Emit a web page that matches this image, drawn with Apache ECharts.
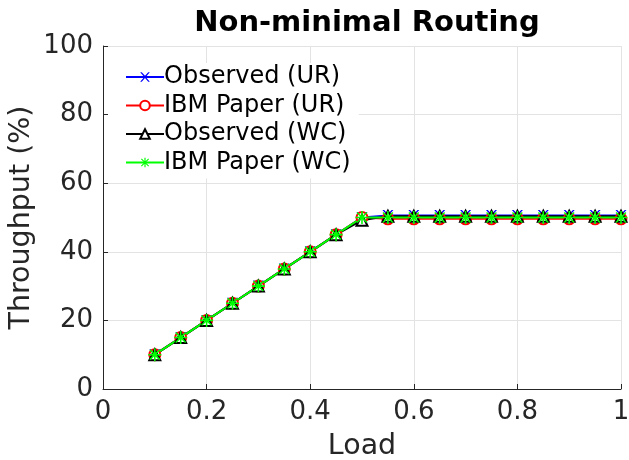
<!DOCTYPE html>
<html>
<head>
<meta charset="utf-8">
<script src="https://cdn.jsdelivr.net/npm/echarts@6/dist/echarts.min.js"></script>
<style>
html,body{margin:0;padding:0;background:#fff;}
#c{width:629px;height:460px;}
</style>
</head>
<body>
<div id="c"></div>
<script>
var loads = [0.1,0.15,0.2,0.25,0.3,0.35,0.4,0.45,0.5,0.55,0.6,0.65,0.7,0.75,0.8,0.85,0.9,0.95,1.0];
var observedUR = [10,15,20,25,30,35,40,45,50,50.6,50.6,50.6,50.6,50.6,50.6,50.6,50.6,50.6,50.6];
var ibmUR      = [10,15,20,25,30,35,40,45,50,49.6,49.6,49.6,49.6,49.6,49.6,49.6,49.6,49.6,49.6];
var observedWC = [10,15,20,25,30,35,40,45,49.2,50.4,50.4,50.4,50.4,50.4,50.4,50.4,50.4,50.4,50.4];
var ibmWC      = [10,15,20,25,30,35,40,45,50,50,50,50,50,50,50,50,50,50,50];
var seriesNames = ['Observed (UR)','IBM Paper (UR)','Observed (WC)','IBM Paper (WC)'];
var xTicks = [0,0.2,0.4,0.6,0.8,1];
var yTicks = [0,20,40,60,80,100];

var FONT = 'DejaVu Sans';
var xPath = 'path://M0,0 L1.6,0 L5,3.8 L8.4,0 L10,0 L5.8,4.9 L10,10 L8.4,10 L5,6 L1.6,10 L0,10 L4.2,4.9 Z';
var starPath = 'path://M4.4,0 L5.6,0 L5.6,10 L4.4,10 Z M0,4.4 L10,4.4 L10,5.6 L0,5.6 Z M0.8,1.6 L1.6,0.8 L9.2,8.4 L8.4,9.2 Z M8.4,0.8 L9.2,1.6 L1.6,9.2 L0.8,8.4 Z';

function pairs(arr){ return loads.map(function(x,i){ return [x, arr[i]]; }); }

function mk(name, data, color, symbol, size, empty){
  var s = {
    name: name, type: 'line', data: pairs(data),
    symbol: symbol, symbolSize: size, showSymbol: true,
    lineStyle: {color: color, width: 2},
    itemStyle: {color: color},
    emphasis: {disabled: true},
    animation: false, z: 2
  };
  if (empty) { s.itemStyle.borderWidth = 1.6; s.itemStyle.borderColor = color; }
  return s;
}

var chart = echarts.init(document.getElementById('c'), null, {renderer: 'canvas'});
chart.setOption({
  backgroundColor: '#fff',
  animation: false,
  title: {
    text: 'Non-minimal Routing', left: 362, textAlign: 'center', top: 4,
    textStyle: {fontFamily: FONT, fontSize: 29, fontWeight: 'bold', color: '#000'}
  },
  grid: {left: 103, right: 8, top: 46, bottom: 71, containLabel: false, outerBoundsMode: 'none'},
  legend: {
    orient: 'vertical', left: 108, top: 63, itemGap: 4.5,
    padding: [2, 8, 4, 17],
    itemWidth: 38, itemHeight: 12,
    backgroundColor: '#fff',
    textStyle: {fontFamily: FONT, fontSize: 24, color: '#000', padding: [0,0,0,-5]},
    data: seriesNames
  },
  xAxis: {
    type: 'value', min: 0, max: 1, interval: 0.2,
    name: 'Load', nameLocation: 'middle', nameGap: 43, nameMoveOverlap: false,
    nameTextStyle: {fontFamily: FONT, fontSize: 28.5, color: '#262626'},
    axisLine: {show: true, lineStyle: {color: '#262626', width: 1}},
    axisTick: {show: true, inside: true, length: 5, lineStyle: {color: '#262626'}},
    axisLabel: {fontFamily: FONT, fontSize: 26, color: '#262626', margin: 10,
      formatter: function(v){ return xTicks.indexOf(v) >= 0 ? String(v) : ''; }},
    splitLine: {show: true, lineStyle: {color: '#e3e3e3', width: 1}}
  },
  yAxis: {
    type: 'value', min: 0, max: 100, interval: 20,
    name: 'Throughput (%)', nameLocation: 'middle', nameGap: 67, nameMoveOverlap: false,
    nameTextStyle: {fontFamily: FONT, fontSize: 28.5, color: '#262626'},
    axisLine: {show: true, lineStyle: {color: '#262626', width: 1}},
    axisTick: {show: true, inside: true, length: 5, lineStyle: {color: '#262626'}},
    axisLabel: {fontFamily: FONT, fontSize: 26, color: '#262626', margin: 10,
      formatter: function(v){ return yTicks.indexOf(v) >= 0 ? String(v) : ''; }},
    splitLine: {show: true, lineStyle: {color: '#e3e3e3', width: 1}}
  },
  series: [
    mk(seriesNames[0], observedUR, '#0000ff', xPath, 11, false),
    mk(seriesNames[1], ibmUR, '#ff0000', 'emptyCircle', 11, true),
    mk(seriesNames[2], observedWC, '#000000', 'emptyTriangle', 11, true),
    mk(seriesNames[3], ibmWC, '#00ff00', starPath, 13, false)
  ]
});
</script>
</body>
</html>
